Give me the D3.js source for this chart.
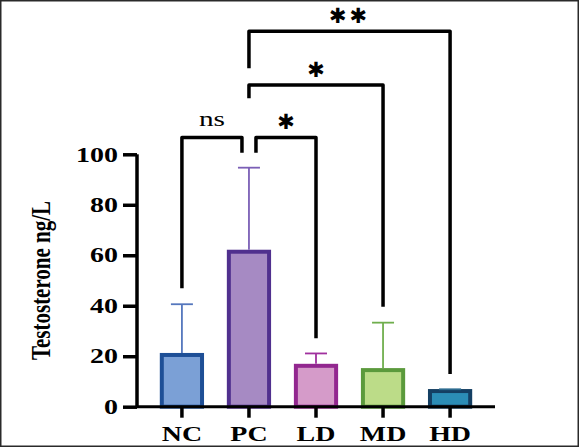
<!DOCTYPE html>
<html>
<head>
<meta charset="utf-8">
<script src="https://cdn.jsdelivr.net/npm/d3@7"></script>
<style>
  html, body { margin: 0; padding: 0; background: #fff; }
  svg { display: block; }
</style>
</head>
<body>
<div id="chart"></div>
<script>
const groups = ['NC', 'PC', 'LD', 'MD', 'HD']
const means = [20.5, 61.4, 16.2, 14.5, 6.2]
const errTop = [40.6, 94.7, 21.1, 33.3, 6.9]
const yTicks = [0, 20, 40, 60, 80, 100]
const fills = ['#7ba0d6', '#a68ac3', '#d59bc9', '#bcdc88', '#2b8db6']
const strokes = ['#1e4f96', '#50308e', '#92278f', '#5b9a3c', '#143f63']
const errColors = ['#5577bd', '#7b5fb6', '#a0309e', '#6fae4d', '#2c6a8f']

// comparisons: [from, to, bracket y, leg end at 'from', leg end at 'to', label]
const comps = [
  ['NC', 'PC', 106.7, 46.9, 100.6, 'ns'],
  ['PC', 'LD', 106.7, 100.6, 27.1, '*'],
  ['PC', 'MD', 127.5, 122.2, 39.6, '*'],
  ['PC', 'HD', 148.8, 134.1, 13.0, '**']
]

const width = 579, height = 447
const svg = d3.select('#chart').append('svg')
  .attr('width', width).attr('height', height)

svg.append('rect')
  .attr('x', 0.75).attr('y', 0.75)
  .attr('width', width - 1.5).attr('height', height - 1.5)
  .attr('fill', '#fff').attr('stroke', '#2a2a2a').attr('stroke-width', 1.5)

const x = d3.scaleBand().domain(groups).range([137, 495])
  .paddingInner(0.4).paddingOuter(0.37)
const y = d3.scaleLinear().domain([0, 100]).range([406.7, 154.3])

const serif = '"Liberation Serif", "Times New Roman", serif'
const widen = 1.33 // the source picture is stretched sideways

function stretch(sel) {
  sel.each(function () {
    const w = this.getComputedTextLength()
    d3.select(this).attr('textLength', w * widen).attr('lengthAdjust', 'spacingAndGlyphs')
  })
}

// bars
svg.selectAll('rect.bar').data(groups).join('rect')
  .attr('class', 'bar')
  .attr('x', d => x(d))
  .attr('width', x.bandwidth())
  .attr('y', (d, i) => y(means[i]))
  .attr('height', (d, i) => y(0) - y(means[i]))
  .attr('fill', (d, i) => fills[i])
  .attr('stroke', (d, i) => strokes[i])
  .attr('stroke-width', 4)

// error bars
const eb = svg.selectAll('g.err').data(groups).join('g')
  .attr('class', 'err')
  .attr('stroke', (d, i) => errColors[i])
  .attr('stroke-width', 1.8)
eb.append('line')
  .attr('x1', d => x(d) + x.bandwidth() / 2)
  .attr('x2', d => x(d) + x.bandwidth() / 2)
  .attr('y1', (d, i) => y(means[i]) - 2)
  .attr('y2', (d, i) => y(errTop[i]))
eb.append('line')
  .attr('x1', d => x(d) + x.bandwidth() / 2 - 11)
  .attr('x2', d => x(d) + x.bandwidth() / 2 + 11)
  .attr('y1', (d, i) => y(errTop[i]))
  .attr('y2', (d, i) => y(errTop[i]))

// axes
const yAxis = svg.append('g')
  .attr('transform', 'translate(137,0)')
  .call(d3.axisLeft(y).tickValues(yTicks).tickSize(14).tickPadding(5))
yAxis.select('.domain').attr('stroke', '#000').attr('stroke-width', 3.5)
  .attr('d', `M0,${y(100)}V${y(0)}`)
yAxis.selectAll('.tick line').attr('stroke', '#000').attr('stroke-width', 3.5)
yAxis.selectAll('.tick text')
  .attr('font-family', serif).attr('font-weight', 'bold')
  .attr('font-size', 21).attr('fill', '#000')
  .call(stretch)

const xAxis = svg.append('g')
  .attr('transform', `translate(0,${y(0)})`)
  .call(d3.axisBottom(x).tickSize(11).tickPadding(8))
xAxis.select('.domain').attr('stroke', '#000').attr('stroke-width', 3)
  .attr('d', `M137,0H495`)
xAxis.selectAll('.tick line').attr('stroke', '#000').attr('stroke-width', 3.5)
xAxis.selectAll('.tick text')
  .attr('font-family', serif).attr('font-weight', 'bold')
  .attr('font-size', 21).attr('fill', '#000')
  .call(stretch)

svg.append('text')
  .attr('transform', `translate(50,${(y(0) + y(100)) / 2}) rotate(-90) scale(1,${widen})`)
  .attr('text-anchor', 'middle')
  .attr('font-family', serif).attr('font-weight', 'bold')
  .attr('font-size', 21)
  .text('Testosterone ng/L')

// significance brackets
const cx = d => x(d) + x.bandwidth() / 2
const gapOf = d => d[0] === 'NC' ? -7 : (d[1] === 'LD' ? 7 : 0)
const br = svg.selectAll('g.bracket').data(comps).join('g').attr('class', 'bracket')
br.append('path')
  .attr('fill', 'none').attr('stroke', '#000').attr('stroke-width', 3.5)
  .attr('stroke-linejoin', 'round')
  .attr('d', d => {
    const x1 = cx(d[0]), x2 = cx(d[1])
    const a = d[0] === 'NC' ? x1 : x1 + gapOf(d)
    const b = d[0] === 'NC' ? x2 + gapOf(d) : x2
    return `M${a},${y(d[3])}V${y(d[2])}H${b}V${y(d[4])}`
  })
br.append('text')
  .attr('x', d => (cx(d[0]) + cx(d[1]) + gapOf(d)) / 2)
  .attr('y', d => y(d[2]) - (d[5] === 'ns' ? 11 : 8))
  .attr('text-anchor', 'middle')
  .attr('font-family', d => d[5] === 'ns' ? serif : '"DejaVu Sans", sans-serif')
  .attr('font-size', d => d[5] === 'ns' ? 22 : 21)
  .attr('letter-spacing', d => d[5] === '**' ? 3 : 0)
  .text(d => d[5] === 'ns' ? 'ns' : d[5].replace(/\*/g, '\u2731'))
  .filter(d => d[5] === 'ns')
  .call(stretch)
</script>
</body>
</html>
